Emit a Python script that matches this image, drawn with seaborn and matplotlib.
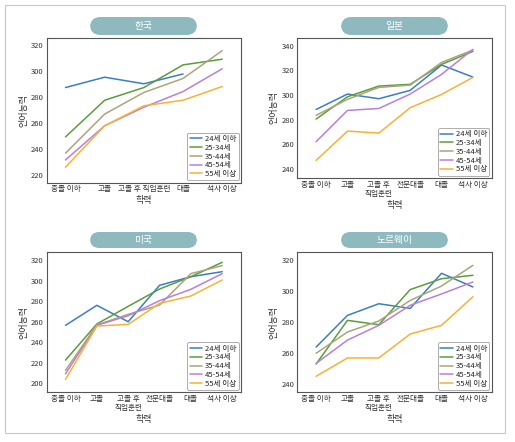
import numpy as np
import pandas as pd
import seaborn as sns
import matplotlib
matplotlib.use("Agg")
import matplotlib.pyplot as plt
from matplotlib.patches import FancyBboxPatch, Rectangle

sns.set_style("white")
plt.rcParams['font.family'] = ['Noto Sans CJK KR', 'DejaVu Sans']

groups = ['24세 이하', '25-34세', '35-44세', '45-54세', '55세 이상']
colors = ['#3a7fc1', '#5c9c3c', '#aaa57c', '#b880d8', '#f7b234']

edu_kr = ['중졸 이하', '고졸', '고졸 후 직업훈련', '대졸', '석사 이상']
edu_other = ['중졸 이하', '고졸', '고졸 후\n직업훈련', '전문대졸', '대졸', '석사 이상']

korea = {
    '24세 이하': [287.5, 295.5, 290.4, 298.0, np.nan],
    '25-34세': [249.4, 277.7, 287.5, 305.0, 309.4],
    '35-44세': [236.8, 267.0, 283.7, 294.5, 316.0],
    '45-54세': [231.6, 258.0, 272.3, 284.4, 302.0],
    '55세 이상': [226.0, 258.0, 273.4, 277.7, 288.3],
}
japan = {
    '24세 이하': [288.2, 300.7, 296.9, 303.7, 324.3, 314.5],
    '25-34세': [280.4, 298.5, 307.2, 308.6, 324.8, 335.4],
    '35-44세': [283.4, 296.4, 306.1, 308.0, 326.4, 336.5],
    '45-54세': [262.0, 287.4, 289.0, 300.7, 316.7, 337.0],
    '55세 이상': [246.8, 270.6, 269.0, 289.6, 300.4, 314.3],
}
usa = {
    '24세 이하': [256.3, 275.8, 259.8, 295.3, 303.7, 308.6],
    '25-34세': [222.4, 257.6, 274.8, 291.7, 303.7, 317.7],
    '35-44세': [212.4, 256.6, 267.0, 276.0, 306.7, 314.5],
    '45-54세': [209.0, 256.3, 265.7, 280.3, 291.4, 306.7],
    '55세 이상': [203.6, 255.6, 257.2, 277.7, 284.9, 300.5],
}
norway = {
    '24세 이하': [264.0, 284.4, 291.9, 288.9, 311.5, 302.7],
    '25-34세': [253.1, 281.2, 278.4, 301.0, 308.0, 310.2],
    '35-44세': [260.0, 273.7, 280.8, 294.0, 303.3, 316.6],
    '45-54세': [253.5, 268.5, 278.0, 290.9, 298.2, 305.9],
    '55세 이상': [245.2, 257.0, 257.0, 272.4, 278.0, 296.4],
}

panels = [
    ('한국', korea, edu_kr, (46.7, 37.7, 241, 182.7), (214, 326), [220, 240, 260, 280, 300, 320], (90, 17, 197, 35)),
    ('일본', japan, edu_other, (297.3, 37.7, 491.7, 178), (232.5, 346.5), [240, 260, 280, 300, 320, 340], (341, 17, 448, 35)),
    ('미국', usa, edu_other, (46.7, 252.3, 241, 392.3), (191, 327.5), [200, 220, 240, 260, 280, 300, 320], (90, 232, 197, 248)),
    ('노르웨이', norway, edu_other, (297.3, 252.3, 491.7, 392.3), (234.9, 325), [240, 260, 280, 300, 320], (341, 232, 448, 248)),
]

W, H = 515, 442
fig = plt.figure(figsize=(W / 100, H / 100), dpi=100)

# outer border
fig.patches.append(Rectangle((5 / W, 1 - 433 / H), 500 / W, 428 / H, transform=fig.transFigure,
                             fill=False, edgecolor='#c8c8c8', linewidth=0.8))

for title, data, cats, (l, t, r, b), ylim, yt, (pl, pt, pr, pb) in panels:
    ax = fig.add_axes([l / W, 1 - b / H, (r - l) / W, (b - t) / H])
    rows = []
    for g in groups:
        for c, v in zip(cats, data[g]):
            rows.append({'학력': c, '언어능력': v, 'group': g})
    df = pd.DataFrame(rows)
    sns.lineplot(data=df, x='학력', y='언어능력', hue='group', hue_order=groups,
                 palette=colors, linewidth=1.1, ax=ax, sort=False)
    ax.set_ylim(*ylim)
    ax.set_yticks(yt)
    n = len(cats)
    pad = 0.12 * (n - 1)
    ax.set_xlim(-pad, n - 1 + pad)
    ax.tick_params(direction='in', length=2.5, width=0.6, labelsize=5.5, pad=2, colors='#333333')
    for s in ax.spines.values():
        s.set_color('#555555')
        s.set_linewidth(0.8)
    ax.set_xlabel('학력', fontsize=6.5, labelpad=2, color='#333333')
    ax.set_ylabel('언어능력', fontsize=6.5, labelpad=2, color='#333333')
    leg = ax.legend(loc='lower right', fontsize=5.5, handlelength=1.6, handletextpad=0.4,
                    labelspacing=0.1, borderpad=0.3, frameon=True, fancybox=True,
                    borderaxespad=0.3)
    leg.get_frame().set_edgecolor('#888888')
    leg.get_frame().set_linewidth(0.6)
    for line in leg.get_lines():
        line.set_linewidth(1.1)

    # title pill
    ph = (pb - pt)
    pill = FancyBboxPatch((pl / W, 1 - pb / H), (pr - pl) / W, ph / H,
                          boxstyle="round,pad=0,rounding_size=%f" % (ph / 2 / H),
                          transform=fig.transFigure, facecolor='#8db9bf', edgecolor='none',
                          mutation_aspect=W / H)
    fig.patches.append(pill)
    fig.text((pl + pr) / 2 / W, 1 - (pt + pb) / 2 / H, title, ha='center', va='center',
             fontsize=7, color='white')

fig.savefig('out.png', dpi=100)
